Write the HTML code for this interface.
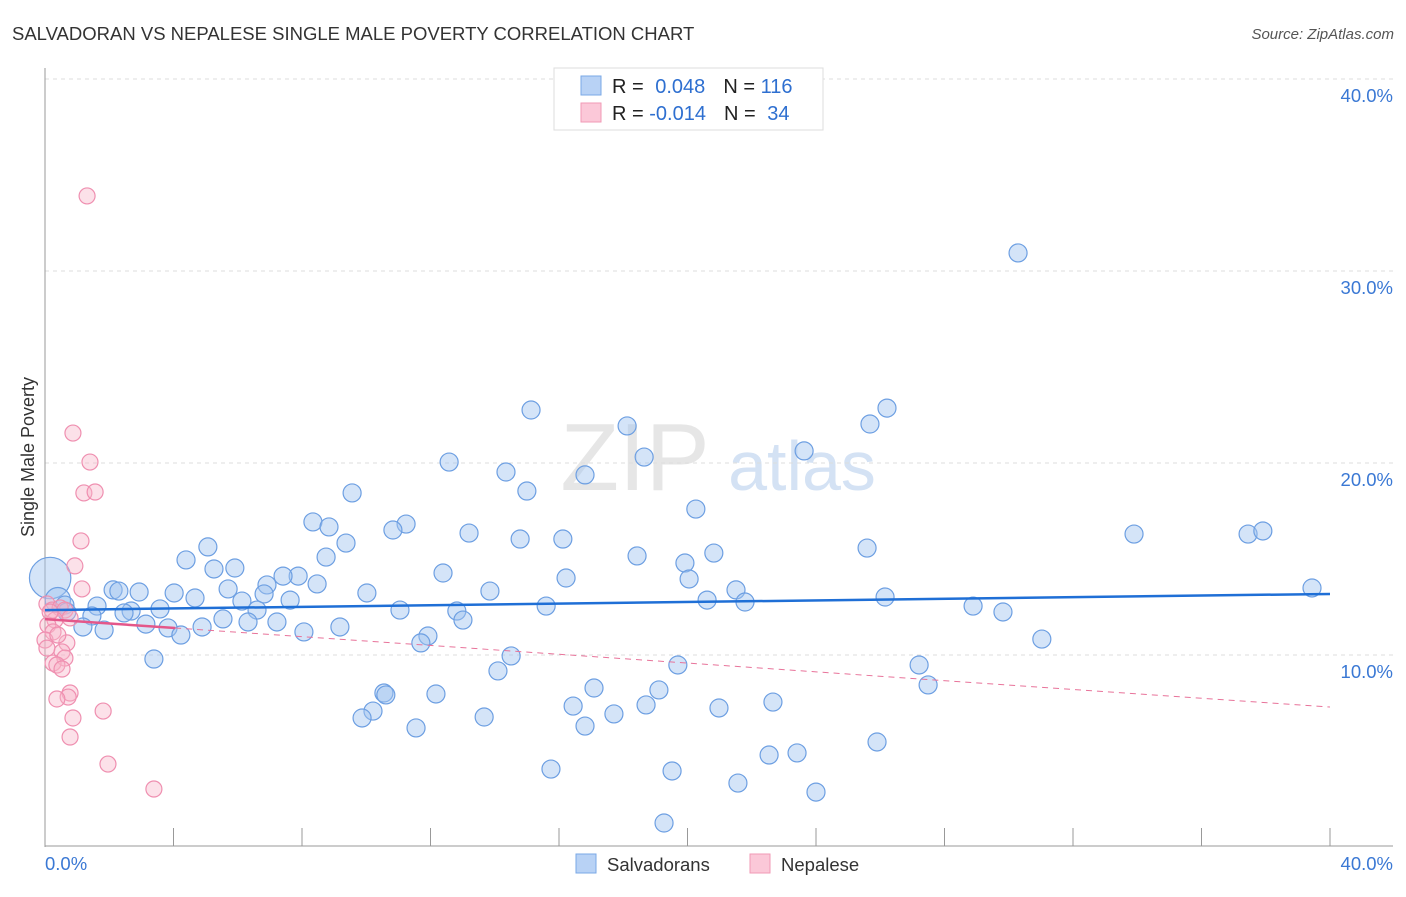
<!DOCTYPE html>
<html><head><meta charset="utf-8"><style>
body{margin:0;background:#fff;font-family:"Liberation Sans",sans-serif;}
svg text{font-family:"Liberation Sans",sans-serif;}
</style></head><body>
<svg id="chart" width="1406" height="892" xmlns="http://www.w3.org/2000/svg">
<text x="12" y="40" font-size="18.5" fill="#333">SALVADORAN VS NEPALESE SINGLE MALE POVERTY CORRELATION CHART</text>
<text x="1394" y="39" font-size="15" fill="#555" text-anchor="end" font-style="italic">Source: ZipAtlas.com</text>
<text x="635" y="490" font-size="96" fill="#e6e6e6" font-family="Liberation Serif" text-anchor="middle">ZIP</text>
<text x="802" y="490" font-size="70" fill="#d4e2f4" text-anchor="middle">atlas</text>
<text transform="translate(34,457) rotate(-90)" font-size="18" fill="#333" text-anchor="middle">Single Male Poverty</text>
<g id="grid"></g><g id="pts"></g><g id="lines"></g>
<g>
<rect x="554" y="68" width="269" height="62" fill="#fff" stroke="#ddd"/>
<rect x="581" y="76" width="20" height="19" fill="#b8d2f5" stroke="#7aa8e6"/>
<rect x="581" y="103" width="20" height="19" fill="#fbc8d8" stroke="#f09ab6"/>
<text x="612" y="93" font-size="20" fill="#222">R = <tspan fill="#2e6fd0" dx="6">0.048</tspan><tspan dx="18" fill="#222">N = </tspan><tspan fill="#2e6fd0">116</tspan></text>
<text x="612" y="120" font-size="20" fill="#222">R = <tspan fill="#2e6fd0">-0.014</tspan><tspan dx="18" fill="#222">N = </tspan><tspan fill="#2e6fd0" dx="6">34</tspan></text>
</g>
<g>
<rect x="576" y="854" width="20" height="19" fill="#b8d2f5" stroke="#7aa8e6"/>
<text x="607" y="871" font-size="18.5" fill="#333">Salvadorans</text>
<rect x="750" y="854" width="20" height="19" fill="#fbc8d8" stroke="#f09ab6"/>
<text x="781" y="871" font-size="18.5" fill="#333">Nepalese</text>
</g>
</svg>
<script>
const blueX=[30.29,26.21,15.13,25.68,18.12,18.65,23.63,12.58,14.35,16.81,15.00,9.56,20.26,8.34,11.24,8.84,10.83,13.20,33.90,37.45,37.91,14.79,16.12,9.37,5.07,25.59,20.82,18.43,8.75,4.39,19.92,5.26,5.91,12.39,16.22,20.05,7.88,7.41,6.91,8.47,5.70,13.85,39.44,2.12,2.30,2.93,10.02,4.02,6.82,21.51,26.15,20.61,7.63,4.67,6.13,21.79,15.60,1.62,3.58,2.68,28.89,6.60,11.05,12.82,2.46,29.82,1.46,13.01,5.54,3.14,7.22,6.32,9.18,3.83,1.18,4.89,8.06,1.84,4.23,11.92,11.70,31.03,3.39,14.51,19.70,27.21,14.10,27.49,17.09,19.11,10.55,12.17,10.61,16.44,18.71,22.66,20.98,10.21,17.71,9.87,13.67,16.81,11.55,25.90,23.41,22.54,15.75,19.52,21.57,24.00,19.27,0.16,0.40,0.62,0.68];
const blueY=[30.94,22.86,22.76,22.03,21.93,20.31,20.63,20.05,19.53,19.38,18.54,18.44,17.60,16.93,16.82,16.67,16.51,16.35,16.30,16.30,16.46,16.04,16.04,15.83,15.63,15.57,15.31,15.16,15.10,14.95,14.79,14.48,14.53,14.27,14.01,13.96,14.11,14.11,13.65,13.70,13.44,13.33,13.49,13.39,13.33,13.28,13.23,13.23,13.18,13.39,13.02,12.86,12.86,12.97,12.81,12.76,12.55,12.55,12.40,12.29,12.55,12.34,12.34,12.29,12.19,12.24,12.03,11.82,11.88,11.61,11.72,11.72,11.46,11.41,11.46,11.46,11.20,11.30,11.04,10.99,10.63,10.83,9.79,9.95,9.48,9.48,9.17,8.44,8.28,8.18,8.02,7.97,7.92,7.34,7.40,7.55,7.24,7.08,6.93,6.72,6.77,6.30,6.20,5.47,4.90,4.79,4.06,3.96,3.33,2.86,1.25,14.01,12.86,12.60,12.24];
const blueW=blueX.map((v,i)=>i===blueX.length-4?2.3:(i===blueX.length-3?1.4:1));
const pinkX=[1.31,0.87,1.40,1.21,1.56,1.12,0.93,1.15,0.06,0.22,0.47,0.62,0.78,0.31,0.09,0.25,0.00,0.68,0.06,0.53,0.62,0.25,0.37,0.53,0.78,0.72,0.37,0.87,1.81,0.78,1.96,3.39,0.16,0.40];
const pinkY=[33.91,21.56,20.05,18.44,18.49,15.94,14.64,13.44,12.66,12.34,12.45,12.34,11.93,11.82,11.56,11.20,10.78,10.63,10.36,10.16,9.84,9.58,9.48,9.27,8.02,7.81,7.71,6.72,7.08,5.73,4.32,3.02,12.24,11.04];
const blueTrend=[12.34,13.18];
const pinkTrend=[11.87,7.29];
const pinkSolidEnd=4.05;
const yTicks=[10,20,30,40];
const yTickLabels=["10.0%","20.0%","30.0%","40.0%"];
const xTicks=[0,4,8,12,16,20,24,28,32,36,40];
const xTickLabels=["0.0%","40.0%"];
const NS="http://www.w3.org/2000/svg";
const X=v=>45+v*32.125, Y=v=>847-v*19.2;
function mk(tag,attrs,parent){const e=document.createElementNS(NS,tag);for(const k in attrs)e.setAttribute(k,attrs[k]);parent.appendChild(e);return e;}
const grid=document.getElementById('grid'),pts=document.getElementById('pts'),lines=document.getElementById('lines');
yTicks.forEach((t,i)=>{
 const g=mk('line',{x1:45,x2:1393,y1:Y(t),y2:Y(t),stroke:'#ddd','stroke-dasharray':'4,4'},grid);
 
 
 const l=mk('text',{x:1393,y:Y(t)+23,'font-size':18.5,fill:'#3a78d4','text-anchor':'end'},grid);l.textContent=yTickLabels[i];
 
 
});
const ax=mk('line',{x1:45,x2:45,y1:68,y2:847,stroke:'#999'},grid);


const bx=mk('line',{x1:45,x2:1393,y1:846,y2:846,stroke:'#999'},grid);


xTicks.forEach(t=>{if(t===0)return;
 const k=mk('line',{x1:X(t),x2:X(t),y1:828,y2:846,stroke:'#999'},grid);
 
 
});
[[0,'start'],[40,'end']].forEach(([t,a],i)=>{
 const l=mk('text',{x:i?1393:45,y:870,'font-size':18.5,fill:'#3a78d4','text-anchor':a},grid);l.textContent=xTickLabels[i];
 
 
});
blueX.forEach((v,i)=>{
 const c=mk('circle',{cx:X(v),cy:Y(blueY[i]),r:9*blueW[i],fill:'rgba(160,195,240,0.45)',stroke:'#6d9fe2','stroke-width':1.2},pts);
 
 
});
pinkX.forEach((v,i)=>{
 const c=mk('circle',{cx:X(v),cy:Y(pinkY[i]),r:8,fill:'rgba(248,180,200,0.4)',stroke:'#ef8fb0','stroke-width':1.2},pts);
 
 
});
const pk=x=>pinkTrend[0]+(pinkTrend[1]-pinkTrend[0])*x/40;
const pd=mk('line',{x1:X(pinkSolidEnd),y1:Y(pk(pinkSolidEnd)),x2:X(40),y2:Y(pinkTrend[1]),stroke:'#e8739a','stroke-width':1,'stroke-dasharray':'6,5'},lines);


const ps=mk('line',{x1:X(0),y1:Y(pinkTrend[0]),x2:X(pinkSolidEnd),y2:Y(pk(pinkSolidEnd)),stroke:'#e4578a','stroke-width':2.5},lines);


const bl=mk('line',{x1:X(0),y1:Y(blueTrend[0]),x2:X(40),y2:Y(blueTrend[1]),stroke:'#1f6fd6','stroke-width':2.5},lines);


</script>
</body></html>
